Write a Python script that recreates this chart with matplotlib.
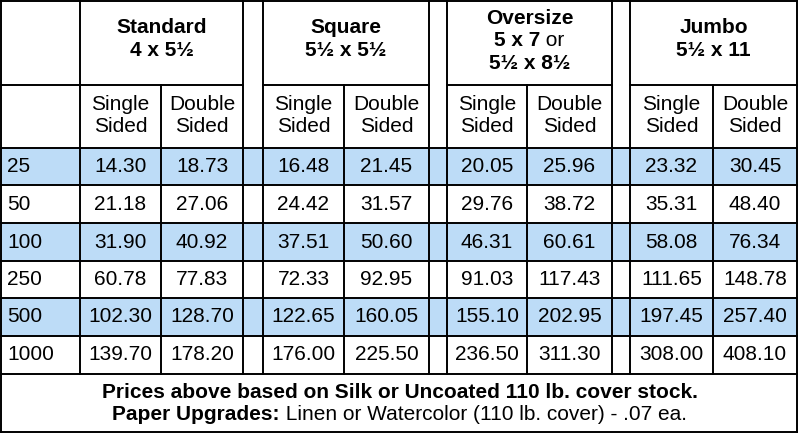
import matplotlib
matplotlib.use("Agg")
import matplotlib.pyplot as plt
from matplotlib.patches import Rectangle

plt.rcParams['font.family'] = ['Liberation Sans', 'DejaVu Sans']

# table content
quantities = ["25", "50", "100", "250", "500", "1000"]
groups = ["Standard", "Square", "Oversize", "Jumbo"]
group_sizes = [["4 x 5½"], ["5½ x 5½"], ["5 x 7", "5½ x 8½"], ["5½ x 11"]]
standard = [[14.30, 18.73], [21.18, 27.06], [31.90, 40.92], [60.78, 77.83], [102.30, 128.70], [139.70, 178.20]]
square = [[16.48, 21.45], [24.42, 31.57], [37.51, 50.60], [72.33, 92.95], [122.65, 160.05], [176.00, 225.50]]
oversize = [[20.05, 25.96], [29.76, 38.72], [46.31, 60.61], [91.03, 117.43], [155.10, 202.95], [236.50, 311.30]]
jumbo = [[23.32, 30.45], [35.31, 48.40], [58.08, 76.34], [111.65, 148.78], [197.45, 257.40], [308.00, 408.10]]
prices = [standard, square, oversize, jumbo]
shaded_rows = [0, 2, 4]
footer_1 = "Prices above based on Silk or Uncoated 110 lb. cover stock."
footer_2_bold = "Paper Upgrades:"
footer_2 = " Linen or Watercolor (110 lb. cover) - .07 ea."

# layout in pixels
W, H = 799, 434
col_x = [1, 80, 161, 243, 263, 344, 429, 447, 527, 612, 630, 713, 797]
row_y = [1, 85, 148, 185, 223, 261, 298, 336, 374, 432]
group_cols = [1, 4, 7, 10]  # left edge index of each group
blue = "#bddcf7"
lw = 1.4
fs = 15
fs_foot = 15

fig = plt.figure(figsize=(W / 100, H / 100), dpi=100)
ax = fig.add_axes([0, 0, 1, 1])
ax.set_xlim(0, W)
ax.set_ylim(H, 0)
ax.axis("off")

# shaded rows
for r in shaded_rows:
    y0, y1 = row_y[2 + r], row_y[3 + r]
    ax.add_patch(Rectangle((col_x[0], y0), col_x[-1] - col_x[0], y1 - y0, color=blue, lw=0))

# vertical lines
for i, x in enumerate(col_x):
    if i in (0, len(col_x) - 1):
        ax.plot([x, x], [row_y[0], row_y[-1]], color="black", lw=lw, solid_capstyle="projecting")
    elif i in (2, 5, 8, 11):
        ax.plot([x, x], [row_y[1], row_y[-2]], color="black", lw=lw)
    else:
        ax.plot([x, x], [row_y[0], row_y[-2]], color="black", lw=lw)

# horizontal lines
ax.plot([col_x[0], col_x[-1]], [row_y[0]] * 2, color="black", lw=lw, solid_capstyle="projecting")
ax.plot([col_x[0], col_x[-1]], [row_y[-1]] * 2, color="black", lw=lw, solid_capstyle="projecting")
for y in row_y[2:-1]:
    ax.plot([col_x[0], col_x[-1]], [y, y], color="black", lw=lw)
# header separator, not across spacers
for a, b in [(0, 3), (4, 6), (7, 9), (10, 12)]:
    ax.plot([col_x[a], col_x[b]], [row_y[1]] * 2, color="black", lw=lw)

fig.canvas.draw()
renderer = fig.canvas.get_renderer()


def mixed_line(parts, xc, y, size):
    # parts: list of (text, weight); centred as a whole
    texts = [ax.text(0, y, s, fontsize=size, fontweight=w, ha="left", va="center") for s, w in parts]
    widths = [t.get_window_extent(renderer).width for t in texts]
    x = xc - sum(widths) / 2
    for t, wdt in zip(texts, widths):
        t.set_x(x)
        x += wdt


# group headers
for g, (name, sizes) in enumerate(zip(groups, group_sizes)):
    a = group_cols[g]
    xc = (col_x[a] + col_x[a + 2]) / 2
    lines = [name] + sizes
    n = len(lines)
    yc = 39 if n < 3 else 41
    step = 22.5
    ys = [yc + (k - (n - 1) / 2) * step for k in range(n)]
    for k, (s, y) in enumerate(zip(lines, ys)):
        if name == "Oversize" and k == 1:
            mixed_line([(s, "bold"), (" or", "normal")], xc, y, fs)
        else:
            ax.text(xc, y, s, fontsize=fs, fontweight="bold", ha="center", va="center")

# sub headers, one text per line
for g in range(4):
    a = group_cols[g]
    for j, label in enumerate(["Single", "Double"]):
        xc = (col_x[a + j] + col_x[a + j + 1]) / 2
        ax.text(xc, 104, label, fontsize=fs, ha="center", va="center")
        ax.text(xc, 127, "Sided", fontsize=fs, ha="center", va="center")

# data rows
for r, q in enumerate(quantities):
    yc = (row_y[2 + r] + row_y[3 + r]) / 2
    ax.text(col_x[0] + 6, yc, q, fontsize=fs, ha="left", va="center")
    for g in range(4):
        a = group_cols[g]
        for j in range(2):
            xc = (col_x[a + j] + col_x[a + j + 1]) / 2
            ax.text(xc, yc, f"{prices[g][r][j]:.2f}", fontsize=fs, ha="center", va="center")

# footer
ax.text(W / 2, 392, footer_1, fontsize=fs_foot, fontweight="bold", ha="center", va="center")
mixed_line([(footer_2_bold, "bold"), (footer_2, "normal")], W / 2, 414, fs_foot)

fig.savefig("out.png", dpi=100)
